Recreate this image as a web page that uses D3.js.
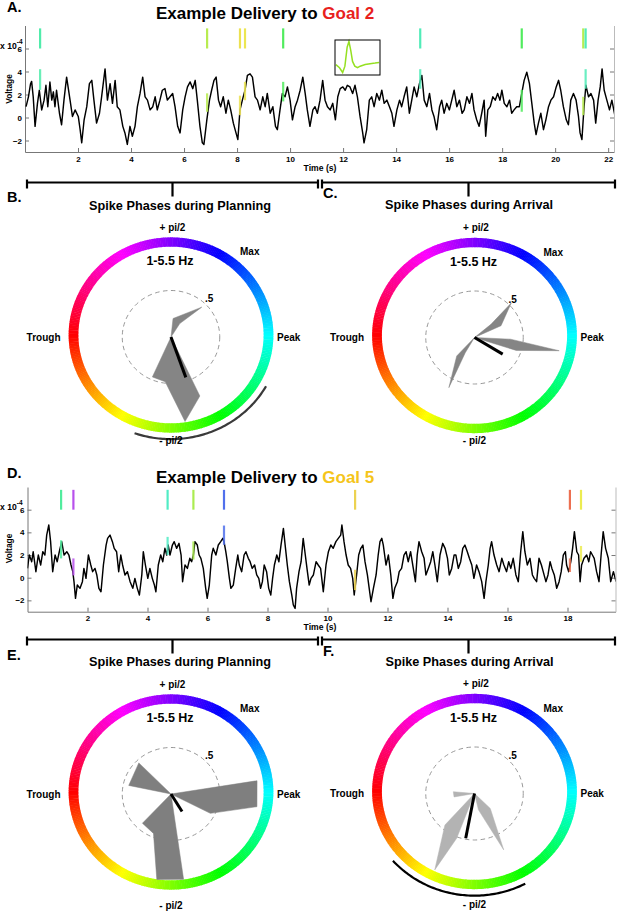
<!DOCTYPE html>
<html>
<head>
<meta charset="utf-8">
<script src="https://cdn.jsdelivr.net/npm/d3@7"></script>
<style>
body { margin: 0; background: #fff; }
text { font-family: "Liberation Sans", Arial, Helvetica, sans-serif; font-weight: bold; fill: #000; }
</style>
</head>
<body>
<div id="fig"></div>
<script>
// ---- data ----
// LFP trace, delivery to goal 2: [time (s), voltage (x1e-4)]
const traceA = [[0.04,0.94],[0.13,1.8],[0.21,2.94],[0.25,3.14],[0.31,1.8],[0.38,-0.77],[0.47,1.23],[0.54,2.37],[0.63,0.66],[0.72,1.51],[0.79,2.8],[0.86,0.94],[0.94,3.09],[1.01,1.51],[1.07,2.23],[1.13,0.94],[1.19,2.37],[1.3,0.37],[1.38,-0.63],[1.47,1.51],[1.57,3.51],[1.7,1.51],[1.79,0.09],[1.89,0.66],[2.01,0.09],[2.08,-1.06],[2.14,-2.2],[2.23,-0.2],[2.33,0.94],[2.43,2.94],[2.52,3.23],[2.6,1.51],[2.7,-0.49],[2.81,0.37],[2.89,1.8],[3.02,4.23],[3.11,1.51],[3.21,2.94],[3.3,1.23],[3.4,3.23],[3.48,0.94],[3.58,0.66],[3.69,-0.77],[3.77,-1.34],[3.86,-2.34],[3.96,-0.77],[4.05,-1.63],[4.15,-0.77],[4.24,0.94],[4.34,2.09],[4.44,3.51],[4.53,1.8],[4.62,1.51],[4.72,0.66],[4.82,0.94],[4.91,1.8],[4.99,0.66],[5.09,1.51],[5.18,2.37],[5.28,2.51],[5.37,1.51],[5.47,1.8],[5.57,2.09],[5.66,0.94],[5.76,-0.77],[5.85,-1.34],[5.95,0.66],[6.04,1.8],[6.13,2.66],[6.23,3.09],[6.33,2.51],[6.42,3.23],[6.5,1.51],[6.6,-0.77],[6.69,-2.2],[6.75,-2.34],[6.86,-0.2],[6.96,1.51],[7.04,2.37],[7.13,3.23],[7.21,3.51],[7.3,1.51],[7.38,0.94],[7.48,1.8],[7.58,0.37],[7.67,1.51],[7.76,0.66],[7.86,-0.49],[7.96,-1.34],[8.03,-1.91],[8.11,0.66],[8.2,1.51],[8.3,2.37],[8.39,3.66],[8.49,3.8],[8.58,3.51],[8.68,1.8],[8.77,1.51],[8.87,0.66],[8.97,1.8],[9.06,0.94],[9.14,2.09],[9.25,0.37],[9.35,0.94],[9.45,-0.77],[9.52,-1.06],[9.62,0.66],[9.71,2.09],[9.81,1.8],[9.9,2.66],[10.0,1.51],[10.09,-0.2],[10.19,0.94],[10.28,1.51],
  [10.38,2.37],[10.48,3.51],[10.57,2.09],[10.65,0.66],[10.75,-0.77],[10.86,0.66],[10.94,0.94],[11.03,0.37],[11.13,1.51],[11.23,3.23],[11.32,1.51],[11.41,0.94],[11.51,0.66],[11.61,1.23],[11.71,-0.2],[11.8,1.8],[11.89,2.51],[11.99,2.66],[12.08,2.37],[12.16,2.8],[12.26,2.66],[12.36,2.09],[12.45,2.8],[12.54,1.8],[12.64,0.09],[12.74,-1.34],[12.79,-2.2],[12.89,-1.06],[12.99,1.51],[13.08,1.8],[13.17,0.94],[13.27,2.09],[13.37,1.51],[13.46,2.37],[13.55,1.23],[13.65,1.51],[13.75,0.94],[13.84,0.37],[13.92,-0.77],[14.03,0.66],[14.13,1.51],[14.21,0.94],[14.3,1.8],[14.4,2.66],[14.5,0.37],[14.59,1.51],[14.68,2.66],[14.78,1.8],[14.88,2.94],[14.97,3.66],[15.06,1.51],[15.16,0.94],[15.26,2.09],[15.35,0.66],[15.43,0.09],[15.53,-1.06],[15.64,0.94],[15.72,1.51],[15.81,0.37],[15.91,1.23],[16.01,0.66],[16.1,1.51],[16.19,2.37],[16.29,0.94],[16.39,1.51],[16.49,0.37],[16.57,0.66],[16.67,1.8],[16.77,1.23],[16.86,2.09],[16.94,0.66],[17.04,-0.2],[17.13,-0.77],[17.23,0.37],[17.32,1.51],[17.38,-1.63],[17.46,0.66],[17.55,0.94],[17.65,1.8],[17.74,1.51],[17.83,2.09],[17.92,1.51],[17.99,2.37],[18.08,1.23],[18.18,0.94],[18.28,1.51],[18.36,0.37],[18.45,0.66],[18.55,0.94],[18.65,0.94],[18.74,2.09],[18.83,3.23],[18.93,3.94],[19.03,2.94],[19.12,1.23],[19.21,-0.49],[19.28,-1.49],[19.37,-0.49],[19.46,0.37],[19.56,-1.06],[19.65,-0.2],[19.75,0.94],[19.84,1.51],[19.94,1.8],[20.04,2.66],[20.13,3.23],[20.21,2.37],[20.31,0.94],[20.42,-0.2],[20.5,-0.63],[20.59,1.51],[20.69,2.09],[20.79,1.51],[20.88,0.09],[20.94,-1.34],[21.01,-1.91],[21.09,0.94],[21.16,2.8],[21.26,1.8],[21.35,2.09],[21.45,1.51],[21.53,-0.49],[21.62,1.51],[21.7,2.66],[21.77,4.23],[21.85,2.37],[21.95,1.51],[22.05,0.66],[22.14,1.51],[22.26,0.09]];

// spikes during delivery to goal 2: time (s), LFP phase (deg), overlay span (voltage)
const spikeA_t     = [0.57, 6.87, 8.11, 8.30, 9.74, 14.91, 18.74, 21.06, 21.15];
const spikeA_phase = [-25, -100, -124, -122, -55, -20, -55, -100, -20];
const spikeA_lo    = [2.4, 0.5, 0.2, 1.5, 1.4, 2.5, 0.5, 0.2, 2.5];
const spikeA_hi    = [4.2, 2.1, 1.9, 3.1, 3.1, 4.2, 2.4, 1.8, 4.2];

// LFP trace, delivery to goal 5
const traceD = [[0.0,0.82],[0.06,2.0],[0.14,1.41],[0.19,2.29],[0.28,0.53],[0.36,2.0],[0.44,1.12],[0.51,2.29],[0.58,2.0],[0.64,3.76],[0.71,4.65],[0.77,3.18],[0.84,0.53],[0.92,2.0],[0.99,1.41],[1.06,2.29],[1.14,3.18],[1.22,2.0],[1.31,2.29],[1.38,2.0],[1.45,1.12],[1.51,0.53],[1.55,-0.35],[1.6,-1.82],[1.66,-0.65],[1.75,-0.94],[1.83,-0.35],[1.88,0.82],[1.95,-0.06],[2.03,2.0],[2.11,1.12],[2.17,0.53],[2.25,0.82],[2.31,0.24],[2.38,-0.94],[2.45,-1.24],[2.53,1.12],[2.62,2.88],[2.67,3.47],[2.75,3.76],[2.83,3.18],[2.89,2.59],[2.97,2.29],[3.04,0.53],[3.11,2.0],[3.17,1.12],[3.25,0.24],[3.33,0.53],[3.42,-0.35],[3.51,-0.94],[3.58,-0.06],[3.66,-0.94],[3.73,-1.53],[3.81,0.24],[3.86,2.29],[3.93,1.12],[4.01,-0.06],[4.08,0.82],[4.16,-0.06],[4.23,-0.65],[4.28,-1.24],[4.36,1.12],[4.44,2.0],[4.51,1.41],[4.58,2.59],[4.64,2.0],[4.69,2.88],[4.75,2.0],[4.83,2.88],[4.89,3.18],[4.97,2.59],[5.05,3.03],[5.12,2.0],[5.17,-0.35],[5.25,1.12],[5.33,0.82],[5.41,1.71],[5.47,1.41],[5.53,2.0],[5.58,3.18],[5.66,2.88],[5.72,2.0],[5.78,1.71],[5.86,0.82],[5.94,-0.94],[5.99,-1.82],[6.06,-0.65],[6.14,2.0],[6.19,2.59],[6.28,2.0],[6.36,2.88],[6.44,3.18],[6.51,3.47],[6.55,3.18],[6.61,2.29],[6.66,1.41],[6.73,-0.06],[6.78,-0.94],[6.86,-0.65],[6.94,0.82],[7.01,2.0],[7.06,1.12],[7.14,0.53],[7.22,2.0],[7.28,2.29],[7.36,1.71],[7.42,1.41],[7.49,0.82],[7.57,1.12],[7.64,0.24],[7.71,-0.06],[7.77,-0.94],[7.83,-0.35],[7.89,1.12],[7.97,0.53],[8.04,-0.94],[8.11,-1.53],[8.17,-0.06],[8.23,1.12],[8.31,2.0],[8.38,1.41],[8.45,2.88],[8.53,4.35],[8.6,2.59],[8.66,1.12],[8.73,-0.35],[8.81,-1.53],[8.86,-2.41],[8.92,-2.71],[8.97,-0.94],[9.05,0.53],[9.12,1.41],[9.19,3.47],[9.26,2.0],[9.33,0.53],[9.39,-0.65],[9.45,-0.06],[9.53,0.24],[9.62,1.41],[9.69,1.12],
  [9.77,0.82],[9.86,-1.24],[9.95,1.12],[10.03,2.29],[10.11,2.88],[10.19,2.59],[10.28,3.18],[10.36,3.47],[10.44,3.76],[10.48,4.65],[10.55,3.18],[10.62,2.0],[10.69,1.12],[10.77,0.82],[10.84,-0.06],[10.89,-1.53],[10.97,0.24],[11.04,2.0],[11.11,2.59],[11.18,2.88],[11.25,1.41],[11.33,0.24],[11.39,-0.94],[11.45,-2.12],[11.53,-0.94],[11.62,0.24],[11.69,2.0],[11.75,3.18],[11.81,3.47],[11.86,2.88],[11.95,1.12],[12.03,2.0],[12.11,0.24],[12.18,-1.82],[12.24,-0.94],[12.33,-0.35],[12.39,0.53],[12.47,0.82],[12.55,2.0],[12.62,2.29],[12.69,1.41],[12.77,2.29],[12.86,0.82],[12.93,-0.35],[12.99,2.0],[13.05,3.18],[13.14,2.29],[13.22,1.71],[13.28,0.24],[13.36,0.82],[13.44,1.41],[13.51,2.29],[13.58,1.12],[13.66,-0.35],[13.75,2.0],[13.84,3.03],[13.92,2.59],[14.0,1.71],[14.06,0.24],[14.14,0.82],[14.22,2.0],[14.28,2.0],[14.36,0.82],[14.44,1.41],[14.51,2.59],[14.58,2.88],[14.66,2.29],[14.73,1.71],[14.81,1.12],[14.88,-0.06],[14.97,1.12],[15.05,0.53],[15.14,-0.35],[15.22,-1.82],[15.28,-0.35],[15.36,1.12],[15.42,2.59],[15.47,3.18],[15.55,2.0],[15.64,1.12],[15.72,0.53],[15.81,1.71],[15.88,1.12],[15.97,0.53],[16.04,1.41],[16.11,0.82],[16.19,1.71],[16.28,0.24],[16.36,-0.35],[16.44,2.29],[16.51,4.06],[16.58,2.29],[16.66,1.12],[16.75,1.71],[16.83,0.24],[16.89,-0.06],[16.97,-0.35],[17.05,1.71],[17.13,1.12],[17.19,0.53],[17.28,-0.35],[17.35,0.24],[17.42,1.41],[17.48,0.82],[17.56,0.24],[17.64,-0.94],[17.72,-0.35],[17.79,0.53],[17.86,2.0],[17.93,2.29],[17.97,1.12],[18.04,0.53],[18.11,1.41],[18.17,2.59],[18.23,4.06],[18.31,2.29],[18.37,2.0],[18.42,-0.35],[18.47,1.12],[18.55,1.71],[18.64,2.0],[18.71,1.41],[18.77,2.29],[18.83,2.0],[18.89,1.71],[18.97,0.53],[19.05,-0.35],[19.12,2.0],[19.19,4.06],[19.27,2.59],[19.36,1.71],[19.44,-0.35],[19.53,0.53],[19.62,-0.35]];

// spikes during delivery to goal 5
const spikeD_t     = [1.12, 1.53, 4.67, 5.53, 6.55, 10.92, 18.08, 18.45];
const spikeD_phase = [-30, 100, -15, -95, 48, -130, -168, -120];
const spikeD_lo    = [1.7, 0.2, 2.0, 1.6, 2.9, -1.1, 0.5, 1.4];
const spikeD_hi    = [3.3, 1.7, 3.6, 3.2, 4.6, 0.7, 1.7, 2.8];

const voltDomain = [-3, 8];
const voltTicks = [-2, 0, 2, 4, 6];
const rasterSpan = [6, 7.75];
const timeTicksA = [2, 4, 6, 8, 10, 12, 14, 16, 18, 20, 22];
const timeTicksD = [2, 4, 6, 8, 10, 12, 14, 16, 18];

// mean spike waveform in the inset: [normalised time, amplitude]
const waveform = [[0.02,0],[0.1,-1],[0.17,-2.5],[0.22,-0.5],[0.27,5.5],[0.31,7.3],[0.35,4.5],[0.39,1],[0.44,-0.5],[0.5,-1],[0.56,-0.5],[0.67,0],[0.78,0.3],[0.89,0.5],[0.98,0.7]];

// rose outlines: [angle (deg), normalised count]
const roseB = [[0,0],[84,0.2],[45.5,0.45],[58,0.17],[0,0],[-65,0.7],[-81,0.92],[-97,0.485],[-114,0.47],[0,0]];
const roseC = [[0,0],[40,0.22],[44.6,0.53],[25,0.3],[0,0],[-2.8,0.37],[-9.3,0.88],[-18,0.45],[0,0],[-120,0.19],[-116,0.6],[-132.5,0.27],[0,0]];
const roseE = [[0,0],[9.2,0.894],[-8.8,0.892],[-27.3,0.454],[0,0],[-82,0.927],[-99,0.93],[-113,0.46],[-133,0.43],[0,0],[168,0.443],[134.6,0.47],[0,0]];
const roseF = [[0,0],[175,0.218],[-170,0.213],[0,0],[-131.8,0.455],[-116.4,0.917],[-110.8,0.515],[0,0],[-77,0.18],[-63.7,0.677],[-44.8,0.228],[0,0]];

// mean phase vectors [angle, length] and confidence arcs [from, to]
const meanB = [-70.7, 0.46], meanC = [-31.8, 0.34], meanE = [-59, 0.22], meanF = [-100.6, 0.49];
const arcB = [-109.5, -29.5], arcF = [-138.3, -62.3];

// ---- drawing ----
const W = 617, H = 911;
const svg = d3.select('#fig').append('svg').attr('width', W).attr('height', H);

const hueOf = deg => (180 + deg + 720) % 360;
const wheelColor = deg => d3.hsl(hueOf(deg), 1, 0.5).formatHex();
const spikeColor = deg => d3.hsl(hueOf(deg), 0.8, 0.62).formatHex();
const rad = d => d * Math.PI / 180;

const label = (x, y, txt, size, anchor) => svg.append('text')
  .attr('x', x).attr('y', y).attr('font-size', size)
  .attr('text-anchor', anchor || 'start').text(txt);

const bracket = (x0, x1, y) => {
  const xm = (x0 + x1) / 2;
  svg.append('path')
    .attr('d', `M${x0},${y - 3}V${y + 6}M${x0},${y}H${x1}M${x1},${y - 3}V${y + 6}M${xm},${y}V${y + 14}`)
    .attr('fill', 'none').attr('stroke', '#000').attr('stroke-width', 2.2);
};

function drawTrace(o) {
  const x = d3.scaleLinear().domain([0, o.tMax]).range([o.left, o.right]);
  const y = d3.scaleLinear().domain(voltDomain).range([o.bottom, o.top]);
  const g = svg.append('g');

  g.append('clipPath').attr('id', 'clip' + o.id).append('rect')
    .attr('x', o.left).attr('y', o.top).attr('width', o.right - o.left).attr('height', o.bottom - o.top);

  const ax = g.append('g').attr('transform', `translate(0,${o.bottom})`)
    .call(d3.axisBottom(x).tickValues(o.ticks).tickSize(-4).tickSizeOuter(0).tickPadding(4));
  const ay = g.append('g').attr('transform', `translate(${o.left},0)`)
    .call(d3.axisLeft(y).tickValues(voltTicks).tickSize(-4).tickSizeOuter(0).tickPadding(3));
  const ay2 = g.append('g').attr('transform', `translate(${o.right},0)`)
    .call(d3.axisRight(y).tickValues(voltTicks).tickSize(-4).tickSizeOuter(0).tickFormat(''));
  [ax, ay, ay2].forEach(a => {
    a.attr('font-size', 8);
    a.selectAll('path,line').attr('stroke', '#777');
  });
  ay2.select('.domain').attr('stroke', '#bbb');

  g.append('path').datum(o.trace)
    .attr('clip-path', `url(#clip${o.id})`)
    .attr('d', d3.line().x(d => x(d[0])).y(d => y(d[1])))
    .attr('fill', 'none').attr('stroke', '#000').attr('stroke-width', 1.45).attr('stroke-linejoin', 'round');

  o.spikeT.forEach((t, i) => {
    const c = spikeColor(o.spikePhase[i]);
    g.append('line').attr('x1', x(t)).attr('x2', x(t))
      .attr('y1', y(rasterSpan[0])).attr('y2', y(rasterSpan[1]))
      .attr('stroke', c).attr('stroke-width', 2.2);
    g.append('line').attr('x1', x(t)).attr('x2', x(t))
      .attr('y1', y(o.spikeLo[i])).attr('y2', y(o.spikeHi[i]))
      .attr('stroke', c).attr('stroke-width', 2.2).attr('opacity', 0.85);
  });

  // labels
  const title = label(156, o.titleY, 'Example Delivery to ', 17);
  title.append('tspan').style('fill', o.goalColor).text(o.goal);
  label(7, o.letterY, o.letter + '.', 14.5);
  label(320, o.bottom + 18.5, 'Time (s)', 8.6, 'middle');
  svg.append('text').attr('font-size', 8.4).attr('text-anchor', 'middle')
    .attr('transform', `translate(12,${o.vlabY}) rotate(-90)`).text('Voltage');
  const ex = label(0, y(6) + 0.5, 'x 10', 8.6);
  ex.append('tspan').attr('dy', -5.5).attr('font-size', 6.5).text('-4');

  bracket(27, 318, o.bracketY);
  bracket(322, 615, o.bracketY);
}

drawTrace({id: 'A', tMax: 22.22, left: 25, right: 614, top: 25.5, bottom: 152,
  trace: traceA, ticks: timeTicksA, spikeT: spikeA_t, spikePhase: spikeA_phase, spikeLo: spikeA_lo, spikeHi: spikeA_hi,
  titleY: 19, goal: 'Goal 2', goalColor: '#e8211d', letter: 'A', letterY: 12, vlabY: 89, bracketY: 182.5});

drawTrace({id: 'D', tMax: 19.6, left: 27.5, right: 615.5, top: 487, bottom: 611.7,
  trace: traceD, ticks: timeTicksD, spikeT: spikeD_t, spikePhase: spikeD_phase, spikeLo: spikeD_lo, spikeHi: spikeD_hi,
  titleY: 482.5, goal: 'Goal 5', goalColor: '#f5c51a', letter: 'D', letterY: 478, vlabY: 548.5, bracketY: 639.5});

// inset spike waveform (panel A)
{
  const ix = d3.scaleLinear().domain([0, 1]).range([335, 380]);
  const iy = d3.scaleLinear().domain([-3.3, 7.8]).range([75, 40]);
  svg.append('path').datum(waveform)
    .attr('d', d3.line().x(d => ix(d[0])).y(d => iy(d[1])))
    .attr('fill', 'none').attr('stroke', '#95e021').attr('stroke-width', 1.5);
  svg.append('rect').attr('x', 335).attr('y', 40).attr('width', 45).attr('height', 35)
    .attr('fill', 'none').attr('stroke', '#000').attr('stroke-width', 1);
}

function drawPolar(o) {
  const rx = 97.5, ry = 93;
  const px = d3.scaleLinear().domain([-1, 1]).range([o.cx - rx, o.cx + rx]);
  const py = d3.scaleLinear().domain([-1, 1]).range([o.cy + ry, o.cy - ry]);
  const pyRing = d3.scaleLinear().domain([-1, 1]).range([o.cy + ry - 2, o.cy - ry - 2]);
  const pt = (deg, r, ys) => [px(r * Math.cos(rad(deg))), (ys || py)(r * Math.sin(rad(deg)))];
  const g = svg.append('g');

  // colour wheel
  d3.range(0, 360, 1).forEach(a => {
    const p = [pt(a, 0.95, pyRing), pt(a, 1.05, pyRing), pt(a + 1.3, 1.05, pyRing), pt(a + 1.3, 0.95, pyRing)];
    g.append('path').attr('d', 'M' + p.join('L') + 'Z').attr('fill', wheelColor(a + 0.5));
  });

  // r = .5 reference circle
  g.append('ellipse').attr('cx', o.cx).attr('cy', o.cy).attr('rx', px(0.5) - o.cx).attr('ry', o.cy - py(0.5))
    .attr('fill', 'none').attr('stroke', '#999').attr('stroke-width', 1).attr('stroke-dasharray', '4.5,3.5');

  // rose
  g.append('path').datum(o.rose)
    .attr('d', d3.line().x(d => pt(d[0], d[1])[0]).y(d => pt(d[0], d[1])[1]))
    .attr('fill', o.roseFill).attr('stroke', o.roseFill).attr('stroke-width', 0.5);

  // mean vector
  const m = pt(o.mean[0], o.mean[1]);
  g.append('line').attr('x1', o.cx).attr('y1', o.cy).attr('x2', m[0]).attr('y2', m[1])
    .attr('stroke', '#000').attr('stroke-width', 3);

  // confidence arc
  if (o.arc) {
    const pts = d3.range(o.arc[0], o.arc[1] + 0.01, 1).map(a => pt(a, 1.12, pyRing));
    g.append('path').attr('d', d3.line()(pts)).attr('fill', 'none')
      .attr('stroke', o.arcColor).attr('stroke-width', 2.2);
  }

  label(o.cx + 1.5, o.cy - 106.5, '+ pi/2', 10, 'middle');
  label(o.cx + 69, o.cy - 82, 'Max', 10);
  label(o.cx - 1, o.cy - 72, '1-5.5 Hz', 12.5, 'middle');
  label(o.cx - 110.5, o.cy + 3.5, 'Trough', 10, 'end');
  label(o.cx + 106, o.cy + 3.5, 'Peak', 10);
  label(o.cx + 34, o.cy - 35, '.5', 10);
  label(o.cx, o.cy + o.bottomDy, '- pi/2', 10, 'middle');
  label(o.titleX, o.titleY, o.title, 12.7, 'middle');
  label(o.letterX, o.letterY, o.letter + '.', 14.5);
}

drawPolar({cx: 171, cy: 337, rose: roseB, roseFill: '#858585', mean: meanB, arc: arcB, arcColor: '#3a3a3a',
  title: 'Spike Phases during Planning', titleX: 180, titleY: 209.5, letter: 'B', letterX: 7, letterY: 201.5, bottomDy: 107});
drawPolar({cx: 474.5, cy: 337.5, rose: roseC, roseFill: '#858585', mean: meanC,
  title: 'Spike Phases during Arrival', titleX: 469, titleY: 208.5, letter: 'C', letterX: 323, letterY: 198, bottomDy: 106});
drawPolar({cx: 171, cy: 794, rose: roseE, roseFill: '#7f7f7f', mean: meanE,
  title: 'Spike Phases during Planning', titleX: 180, titleY: 665.5, letter: 'E', letterX: 7, letterY: 660, bottomDy: 115});
drawPolar({cx: 474.5, cy: 793.5, rose: roseF, roseFill: '#b3b3b3', mean: meanF, arc: arcF, arcColor: '#000',
  title: 'Spike Phases during Arrival', titleX: 469.5, titleY: 665.5, letter: 'F', letterX: 323, letterY: 656, bottomDy: 114});
</script>
</body>
</html>
